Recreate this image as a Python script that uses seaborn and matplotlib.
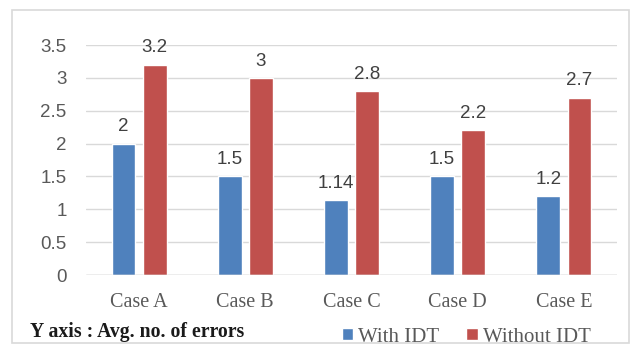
import matplotlib
matplotlib.use("Agg")
import matplotlib.pyplot as plt
from matplotlib.patches import Rectangle
import seaborn as sns
import pandas as pd

# Chart data
cases = ["Case A", "Case B", "Case C", "Case D", "Case E"]
with_idt = [2, 1.5, 1.14, 1.5, 1.2]
without_idt = [3.2, 3, 2.8, 2.2, 2.7]
series_names = ["With IDT", "Without IDT"]
y_ticks = [0, 0.5, 1, 1.5, 2, 2.5, 3, 3.5]
y_tick_labels = ["0", "0.5", "1", "1.5", "2", "2.5", "3", "3.5"]

df = pd.DataFrame({
    "case": cases * 2,
    "series": [series_names[0]] * len(cases) + [series_names[1]] * len(cases),
    "value": with_idt + without_idt,
})

sns.set_theme(style="white")
plt.rcParams["font.family"] = ["Liberation Serif", "DejaVu Serif"]

BLUE = "#4F81BD"
RED = "#C0504D"
GRID = "#D9D9D9"
TXT = "#595959"

fig = plt.figure(figsize=(6.32, 3.46), dpi=100)
ax = fig.add_axes([86 / 632, 1 - 275 / 346, (617 - 86) / 632, (275 - 45) / 346])

sns.barplot(data=df, x="case", y="value", hue="series", order=cases,
            hue_order=series_names, palette=[BLUE, RED], width=0.59, gap=0.24,
            saturation=1, errorbar=None, ax=ax, legend=True)

ax.set_ylim(0, 3.5)
ax.set_xlim(-0.5, len(cases) - 0.5)
ax.set_yticks(y_ticks)
ax.set_yticklabels(y_tick_labels, family=["Liberation Sans", "DejaVu Sans"],
                   fontsize=13.5, color=TXT)
ax.tick_params(axis="y", length=0, pad=14)
ax.tick_params(axis="x", length=0, pad=13, labelsize=14.5, labelcolor=TXT)
ax.set_xlabel("")
ax.set_ylabel("")
ax.yaxis.grid(True, color=GRID, linewidth=1)
ax.set_axisbelow(True)
for s in ax.spines.values():
    s.set_visible(False)
ax.axhline(0, color="#C8C8C8", linewidth=1, zorder=1)

# Value labels above each bar
for cont in ax.containers:
    ax.bar_label(cont, labels=[f"{v:g}" for v in cont.datavalues], padding=6,
                 fontsize=13.5, color="#404040",
                 family=["Liberation Sans", "DejaVu Sans"], clip_on=False)

# Legend along the bottom
handles, labels = ax.get_legend_handles_labels()
ax.get_legend().remove()
leg = fig.legend(handles, labels, loc="center left",
                 bbox_to_anchor=(342 / 632, 1 - 337 / 346), ncol=2,
                 frameon=False, fontsize=15, handlelength=0.53,
                 handleheight=0.53, handletextpad=0.25, columnspacing=1.3,
                 borderpad=0, borderaxespad=0)
for t in leg.get_texts():
    t.set_color(TXT)

fig.text(30 / 632, 1 - 332 / 346, "Y axis : Avg. no. of errors",
         fontsize=14.2, fontweight="bold", color="#1a1a1a",
         ha="left", va="center")

# Outer chart frame
fig.add_artist(Rectangle((12 / 632, 1 - 343 / 346), (629 - 12) / 632,
                         (343 - 10) / 346, transform=fig.transFigure,
                         fill=False, edgecolor=GRID, linewidth=1.2))

fig.savefig("out.png", dpi=100)
